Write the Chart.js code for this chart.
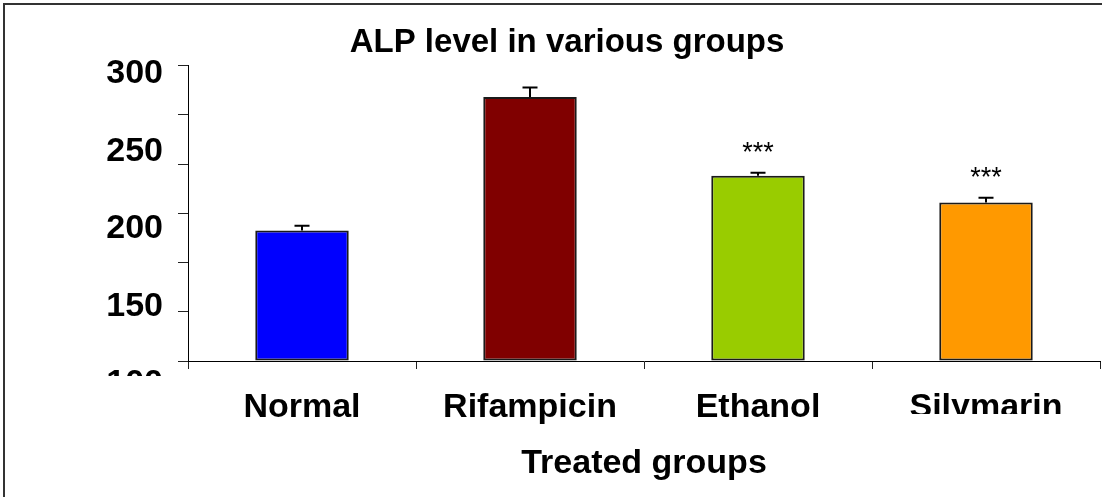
<!DOCTYPE html>
<html>
<head>
<meta charset="utf-8">
<script src="https://cdn.jsdelivr.net/npm/chart.js@4/dist/chart.umd.min.js"></script>
<style>
  html, body { margin: 0; padding: 0; background: #fff; overflow: hidden; }
  #wrap { position: relative; width: 1102px; height: 497px; }
  #frame { position: absolute; left: 3px; top: 3px; width: 1200px; height: 600px;
           border-top: 2px solid #333; border-left: 2px solid #333; pointer-events: none; }
</style>
</head>
<body>
<div id="wrap">
  <canvas id="c" width="1102" height="497"></canvas>
  <div id="frame"></div>
</div>
<script>
// ---- data ----
const categories = ['Normal', 'Rifampicin', 'Ethanol', 'Silymarin'];
const alpValues = [188.3, 278.8, 225.4, 207.3];
const alpErrors = [3.2, 6.3, 2.1, 3.2];
const significance = ['', '', '***', '***'];
const barColors = ['#0000FF', '#800000', '#99CC00', '#FF9900'];
const yTickLabels = [100, 150, 200, 250, 300];
const dataAxisRange = [100, 300];
const dataAxisTickCount = 7;
const labelAxisRange = [114.75, 305.15];

const FONT = "'Liberation Sans', Arial, sans-serif";

const errorBarPlugin = {
  id: 'errorBars',
  afterDatasetsDraw(chart) {
    const ctx = chart.ctx;
    const meta = chart.getDatasetMeta(0);
    const ys = chart.scales.y;
    ctx.save();
    ctx.strokeStyle = '#000';
    ctx.lineWidth = 2;
    meta.data.forEach((bar, i) => {
      const x = bar.x;
      const yv = ys.getPixelForValue(alpValues[i]);
      const yt = ys.getPixelForValue(alpValues[i] + alpErrors[i]);
      ctx.beginPath();
      ctx.moveTo(x, yv);
      ctx.lineTo(x, yt);
      ctx.moveTo(x - 7.5, yt);
      ctx.lineTo(x + 7.5, yt);
      ctx.stroke();
      if (significance[i]) {
        ctx.fillStyle = '#000';
        ctx.font = '27px ' + FONT;
        ctx.textAlign = 'center';
        ctx.textBaseline = 'alphabetic';
        ctx.fillText(significance[i], x, yt - 12);
      }
    });
    ctx.restore();
  }
};

// white masks reproducing the clipped labels of the original figure
const maskPlugin = {
  id: 'masks',
  afterDraw(chart) {
    const ctx = chart.ctx;
    const xs = chart.scales.x;
    const area = chart.chartArea;
    ctx.save();
    ctx.fillStyle = '#fff';
    ctx.fillRect(80, area.bottom + 15, 96, 30);
    const px = xs.getPixelForValue(categories.length - 1);
    ctx.fillRect(px - 90, xs.top + 53, 180, 30);
    ctx.restore();
  }
};

new Chart(document.getElementById('c'), {
  type: 'bar',
  data: {
    labels: categories,
    datasets: [{
      data: alpValues,
      base: dataAxisRange[0],
      backgroundColor: barColors,
      borderColor: '#1a1a1a',
      borderWidth: 2,
      borderSkipped: false,
      barPercentage: 0.41,
      categoryPercentage: 1.0
    }]
  },
  plugins: [errorBarPlugin, maskPlugin],
  options: {
    responsive: false,
    animation: false,
    layout: { padding: { left: 34, right: 2, top: 23, bottom: 0 } },
    plugins: {
      legend: { display: false },
      tooltip: { enabled: false },
      title: {
        display: true,
        text: 'ALP level in various groups',
        color: '#000',
        font: { family: FONT, size: 33, weight: 'bold' },
        padding: { top: 0, bottom: 3 }
      }
    },
    scales: {
      x: {
        afterFit(s) { s.height = 136; },
        grid: { display: true, drawOnChartArea: false, drawTicks: true, tickLength: 8, color: '#222', lineWidth: 1, offset: true },
        border: { display: true, color: '#000', width: 1 },
        ticks: { color: '#000', padding: 18, font: { family: FONT, size: 34, weight: 'bold' } },
        title: {
          display: true, text: 'Treated groups', color: '#000',
          font: { family: FONT, size: 34, weight: 'bold' },
          padding: { top: 0, bottom: 13 }
        }
      },
      y: {
        position: 'left',
        weight: 0,
        min: dataAxisRange[0],
        max: dataAxisRange[1],
        afterBuildTicks(s) {
          const t = [];
          for (let i = 0; i < dataAxisTickCount; i++) {
            t.push({ value: dataAxisRange[0] + i * (dataAxisRange[1] - dataAxisRange[0]) / (dataAxisTickCount - 1) });
          }
          s.ticks = t;
        },
        afterFit(s) { s.width = 10; },
        grid: { display: true, drawOnChartArea: false, drawTicks: true, tickLength: 10, color: '#222', lineWidth: 1 },
        border: { display: true, color: '#000', width: 1 },
        ticks: { display: false }
      },
      y2: {
        position: 'left',
        weight: 1,
        min: labelAxisRange[0],
        max: labelAxisRange[1],
        afterBuildTicks(s) { s.ticks = yTickLabels.map(v => ({ value: v })); },
        afterFit(s) { s.width = 144; },
        grid: { display: false },
        border: { display: false },
        ticks: { color: '#000', padding: 7, font: { family: FONT, size: 34, weight: 'bold' } }
      }
    }
  }
});
</script>
</body>
</html>
